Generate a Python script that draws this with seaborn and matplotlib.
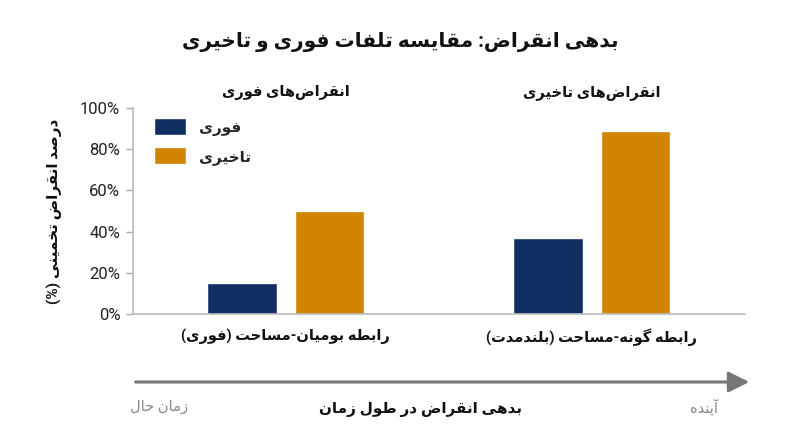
import numpy as np
import pandas as pd
import matplotlib
matplotlib.use("Agg")
import matplotlib.pyplot as plt
from matplotlib import font_manager
from matplotlib.ft2font import FT2Font
import seaborn as sns

# data
groups = ["رابطه بومیان-مساحت (فوری)", "رابطه گونه-مساحت (بلندمدت)"]
series = ["فوری", "تاخیری"]
immediate = [15, 37]
delayed = [50, 89]
headers = ["انقراض‌های فوری", "انقراض‌های تاخیری"]
yticks = [0, 20, 40, 60, 80, 100]

title = "بدهی انقراض: مقایسه تلفات فوری و تاخیری"
ylabel = "درصد انقراض تخمینی (%)"
time_label = "بدهی انقراض در طول زمان"
left_label = "زمان حال"
right_label = "آینده"

# --- minimal arabic/persian shaping (matplotlib has no complex text layout) ---
# letter: (isolated, final, initial, medial); right-joining letters have 2 forms
FORMS = {
    "ا": (0xFE8D, 0xFE8E), "آ": (0xFE81, 0xFE82), "د": (0xFEA9, 0xFEAA),
    "ذ": (0xFEAB, 0xFEAC), "ر": (0xFEAD, 0xFEAE), "ز": (0xFEAF, 0xFEB0),
    "و": (0xFEED, 0xFEEE), "ژ": (0xFB8A, 0xFB8B),
    "ب": (0xFE8F, 0xFE90, 0xFE91, 0xFE92), "ت": (0xFE95, 0xFE96, 0xFE97, 0xFE98),
    "ح": (0xFEA1, 0xFEA2, 0xFEA3, 0xFEA4), "خ": (0xFEA5, 0xFEA6, 0xFEA7, 0xFEA8),
    "س": (0xFEB1, 0xFEB2, 0xFEB3, 0xFEB4), "ص": (0xFEB9, 0xFEBA, 0xFEBB, 0xFEBC),
    "ض": (0xFEBD, 0xFEBE, 0xFEBF, 0xFEC0), "ط": (0xFEC1, 0xFEC2, 0xFEC3, 0xFEC4),
    "ع": (0xFEC9, 0xFECA, 0xFECB, 0xFECC), "ف": (0xFED1, 0xFED2, 0xFED3, 0xFED4),
    "ق": (0xFED5, 0xFED6, 0xFED7, 0xFED8), "ل": (0xFEDD, 0xFEDE, 0xFEDF, 0xFEE0),
    "م": (0xFEE1, 0xFEE2, 0xFEE3, 0xFEE4), "ن": (0xFEE5, 0xFEE6, 0xFEE7, 0xFEE8),
    "ه": (0xFEE9, 0xFEEA, 0xFEEB, 0xFEEC), "ی": (0xFBFC, 0xFBFD, 0xFBFE, 0xFBFF),
    "گ": (0xFB92, 0xFB93, 0xFB94, 0xFB95), "ک": (0xFB8E, 0xFB8F, 0xFB90, 0xFB91),
    "پ": (0xFB56, 0xFB57, 0xFB58, 0xFB59), "چ": (0xFB7A, 0xFB7B, 0xFB7C, 0xFB7D),
}
# plain-arabic stand-ins if the font lacks the persian presentation forms
ALT = {"ی": (0xFEEF, 0xFEF0, 0xFEF3, 0xFEF4), "گ": (0xFED9, 0xFEDA, 0xFEDB, 0xFEDC),
       "ک": (0xFED9, 0xFEDA, 0xFEDB, 0xFEDC)}
MIRROR = {"(": ")", ")": "("}


def font_cmap(weight):
    path = font_manager.findfont(font_manager.FontProperties(family="DejaVu Sans", weight=weight))
    return set(FT2Font(path).get_charmap().keys())


CMAP = font_cmap("bold") & font_cmap("normal")


def form_of(ch, idx):
    forms = FORMS[ch]
    cp = forms[idx]
    if cp not in CMAP and ch in ALT:
        cp = ALT[ch][idx]
    return chr(cp)


def fa(text):
    chars = list(text)
    out = []
    for i, ch in enumerate(chars):
        if ch not in FORMS:
            if ch != "\u200c":
                out.append(ch)
            continue
        prev = chars[i - 1] if i > 0 else ""
        nxt = chars[i + 1] if i + 1 < len(chars) else ""
        joins_prev = prev in FORMS and len(FORMS[prev]) == 4
        joins_next = len(FORMS[ch]) == 4 and nxt in FORMS
        if joins_prev and joins_next:
            out.append(form_of(ch, 3))
        elif joins_prev:
            out.append(form_of(ch, 1))
        elif joins_next:
            out.append(form_of(ch, 2))
        else:
            out.append(form_of(ch, 0))
    return "".join(MIRROR.get(c, c) for c in reversed(out))


sns.set_theme(style="white")
plt.rcParams["font.family"] = ["Roboto", "DejaVu Sans"]

df = pd.DataFrame({
    "group": [fa(g) for g in groups] * 2,
    "series": [fa(series[0])] * 2 + [fa(series[1])] * 2,
    "value": immediate + delayed,
})

navy = "#112e63"
orange = "#d18400"

fig = plt.figure(figsize=(8, 4.47), dpi=100)
ax = fig.add_axes([0.166, 0.2975, 0.765, 0.4607])

sns.barplot(data=df, x="group", y="value", hue="series",
            palette=[navy, orange], width=0.57, gap=0.2,
            saturation=1, ax=ax, legend=True)

ax.set_ylim(0, 100)
ax.set_xlim(-0.5, 1.5)
ax.set_yticks(yticks)
ax.set_yticklabels([f"{v}%" for v in yticks], fontsize=12, color="#222222")
ax.tick_params(axis="y", length=5, width=1, color="#aaaaaa", pad=4, left=True)
ax.tick_params(axis="x", length=0, pad=10)
for lab in ax.get_xticklabels():
    lab.set_fontsize(10.5)
    lab.set_fontweight("bold")
    lab.set_color("#111111")
ax.set_xlabel("")
ax.set_ylabel(fa(ylabel), fontsize=11, fontweight="bold", labelpad=13, color="#111111")

sns.despine(ax=ax)
for side in ["left", "bottom"]:
    ax.spines[side].set_color("#bbbbbb")
    ax.spines[side].set_linewidth(1.2)

leg = ax.legend(loc="upper left", frameon=False, fontsize=11,
                handlelength=2.1, handleheight=1.3, labelspacing=0.75,
                handletextpad=0.8, borderaxespad=0.0, bbox_to_anchor=(0.025, 0.98))
for t in leg.get_texts():
    t.set_fontweight("bold")

for i, h in enumerate(headers):
    ax.text(i, 104, fa(h), ha="center", va="bottom", fontsize=10.5,
            fontweight="bold", color="#111111")

fig.text(0.5, 0.905, fa(title), ha="center", va="center", fontsize=14.5,
         fontweight="bold", color="#111111")

fig.add_artist(matplotlib.patches.FancyArrowPatch(
    (0.166, 0.1454), (0.94, 0.1454), transform=fig.transFigure,
    arrowstyle="-|>,head_length=0.9,head_width=0.45", mutation_scale=14,
    color="#777777", linewidth=2.2))

fig.text(0.199, 0.089, fa(left_label), ha="center", va="center", fontsize=10.5, color="#888888")
fig.text(0.88, 0.089, fa(right_label), ha="center", va="center", fontsize=10.5, color="#888888")
fig.text(0.526, 0.085, fa(time_label), ha="center", va="center", fontsize=11,
         fontweight="bold", color="#111111")

fig.savefig("out.png", dpi=100)
